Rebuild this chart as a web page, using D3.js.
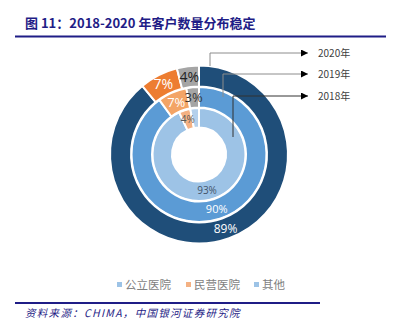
<!DOCTYPE html>
<html><head><meta charset="utf-8">
<script src="https://cdn.jsdelivr.net/npm/d3@7"></script>
<style>body{margin:0;background:#fff}svg{display:block}</style>
</head><body>
<script>
const categories = ["公立医院", "民营医院", "其他"];
const years = ["2018年", "2019年", "2020年"];
const values2018 = [93, 4, 3];
const values2019 = [90, 7, 3];
const values2020 = [89, 7, 4];
const labels2018 = ["93%", "4%", ""];
const labels2019 = ["90%", "7%", "3%"];
const labels2020 = ["89%", "7%", "4%"];

const W = 414, H = 331;
const svg = d3.select("body").append("svg").attr("width", W).attr("height", H);
const font = "'Noto Sans CJK SC','Noto Sans',sans-serif";

// title
svg.append("text").attr("x", 25).attr("y", 28).attr("font-family", font)
  .attr("font-weight", "bold").attr("font-size", 13).attr("fill", "#1f1d86")
  .text("图 11：2018-2020 年客户数量分布稳定");
svg.append("line").attr("x1", 15).attr("x2", 386).attr("y1", 36.5).attr("y2", 36.5)
  .attr("stroke", "#1f1d86").attr("stroke-width", 2);

const cx = 199, cy = 154.5;
const rings = [
  {year: years[0], vals: values2018, labels: labels2018, r0: 27, r1: 46.5,
   colors: ["#9dc3e6", "#f4b183", "#b4d0ec"], text: ["#44546a", "#595959", "#404040"], fs: 10},
  {year: years[1], vals: values2019, labels: labels2019, r0: 47, r1: 67.5,
   colors: ["#5b9bd5", "#f3a466", "#a5a5a5"], text: ["#ffffff", "#ffffff", "#333333"], fs: 11},
  {year: years[2], vals: values2020, labels: labels2020, r0: 68, r1: 89,
   colors: ["#1f4e79", "#ed7d31", "#a5a5a5"], text: ["#ffffff", "#ffffff", "#222222"], fs: 12}
];

const pie = d3.pie().sort(null).value(d => d);
const g = svg.append("g").attr("transform", `translate(${cx},${cy})`);
rings.forEach(ring => {
  const arc = d3.arc().innerRadius(ring.r0).outerRadius(ring.r1);
  const arcs = pie(ring.vals);
  g.selectAll(null).data(arcs).enter().append("path")
    .attr("d", arc).attr("fill", (d, i) => ring.colors[i])
    .attr("stroke", "#fff").attr("stroke-width", 2);
  g.selectAll(null).data(arcs).enter().append("text")
    .attr("transform", d => `translate(${arc.centroid(d)})`)
    .attr("text-anchor", "middle").attr("dy", "0.35em")
    .attr("font-family", "'Open Sans','Noto Sans',sans-serif")
    .attr("font-size", (d, i) => i === 0 ? ring.fs : ring.fs + (ring.fs > 10 ? 2 : 0))
    .attr("fill", (d, i) => ring.text[i])
    .text((d, i) => ring.labels[i]);
});

// callout lines
const callouts = [
  {year: years[2], x: 210, y0: 66, y: 53, color: "#8c8c8c"},
  {year: years[1], x: 223, y0: 97, y: 74, color: "#8c8c8c"},
  {year: years[0], x: 233, y0: 137, y: 96, color: "#333333"}
];
svg.append("defs").append("marker").attr("id", "arr").attr("viewBox", "0 0 10 10")
  .attr("refX", 10).attr("refY", 5).attr("markerWidth", 9).attr("markerHeight", 7)
  .attr("markerUnits", "userSpaceOnUse").attr("orient", "auto")
  .append("path").attr("d", "M0,0L10,5L0,10Z").attr("fill", "#000");
callouts.forEach(c => {
  svg.append("path").attr("d", `M${c.x},${c.y0}V${c.y}H${308}`)
    .attr("fill", "none").attr("stroke", c.color).attr("stroke-width", 1)
    .attr("marker-end", "url(#arr)");
  svg.append("text").attr("x", 318).attr("y", c.y + 3.5)
    .attr("font-family", "'Noto Sans CJK SC','Open Sans',sans-serif").attr("font-size", 10)
    .attr("fill", "#404040").text(c.year);
});

// legend
const legendColors = ["#9dc3e6", "#f4b183", "#9dc3e6"];
const legendX = [117, 186, 254];
categories.forEach((c, i) => {
  svg.append("rect").attr("x", legendX[i]).attr("y", 282).attr("width", 5).attr("height", 5)
    .attr("fill", legendColors[i]);
  svg.append("text").attr("x", legendX[i] + 8).attr("y", 288.5).attr("font-family", font)
    .attr("font-size", 11.5).attr("fill", "#7f7f7f").text(c);
});

// footer
svg.append("line").attr("x1", 15).attr("x2", 320).attr("y1", 303).attr("y2", 303)
  .attr("stroke", "#1f1d86").attr("stroke-width", 2);
svg.append("text").attr("x", 25).attr("y", 317).attr("font-family", font)
  .attr("font-style", "italic").attr("font-size", 10.5).attr("fill", "#1f1d86")
  .attr("letter-spacing", 1.3)
  .text("资料来源：CHIMA，中国银河证券研究院");
</script>
</body></html>
